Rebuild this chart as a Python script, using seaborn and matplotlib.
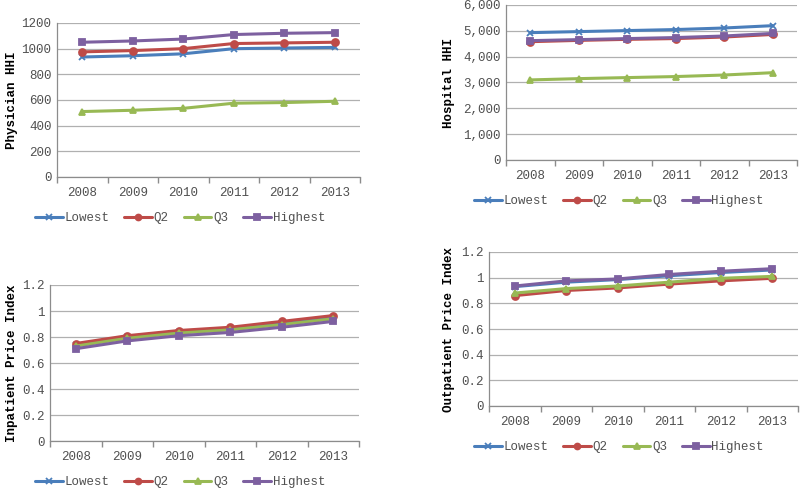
import numpy as np
import pandas as pd
import seaborn as sns
import matplotlib.pyplot as plt
from matplotlib.ticker import FuncFormatter, FixedLocator

years = [2008, 2009, 2010, 2011, 2012, 2013]
groups = ['Lowest', 'Q2', 'Q3', 'Highest']

physician_hhi = {
    'Lowest': [935, 945, 960, 1000, 1005, 1010],
    'Q2': [975, 985, 1000, 1040, 1045, 1050],
    'Q3': [510, 520, 535, 575, 580, 590],
    'Highest': [1050, 1060, 1075, 1110, 1120, 1125],
}
hospital_hhi = {
    'Lowest': [4930, 4970, 5010, 5050, 5110, 5200],
    'Q2': [4580, 4630, 4670, 4700, 4760, 4860],
    'Q3': [3100, 3150, 3190, 3230, 3290, 3380],
    'Highest': [4620, 4660, 4700, 4740, 4800, 4900],
}
inpatient_pi = {
    'Lowest': [0.74, 0.80, 0.84, 0.865, 0.905, 0.95],
    'Q2': [0.75, 0.81, 0.85, 0.875, 0.92, 0.965],
    'Q3': [0.73, 0.79, 0.83, 0.855, 0.895, 0.94],
    'Highest': [0.71, 0.77, 0.81, 0.835, 0.875, 0.92],
}
outpatient_pi = {
    'Lowest': [0.93, 0.965, 0.985, 1.015, 1.04, 1.06],
    'Q2': [0.86, 0.90, 0.92, 0.95, 0.975, 0.995],
    'Q3': [0.88, 0.915, 0.935, 0.965, 0.995, 1.01],
    'Highest': [0.935, 0.975, 0.99, 1.025, 1.05, 1.07],
}

colors = {'Lowest': '#4A7EBB', 'Q2': '#BE4B48', 'Q3': '#98B954', 'Highest': '#7D60A0'}
markers = {'Lowest': 'x', 'Q2': 'o', 'Q3': '^', 'Highest': 's'}

W, H = 800, 488
sns.set_theme(style='white')
plt.rcParams['font.family'] = ['Liberation Mono', 'DejaVu Sans']

fig = plt.figure(figsize=(W / 100, H / 100), dpi=100)

# (data, ylabel, y max, y step, tick formatter, axes box in px [l, r, top, bottom], legend centre px, ylabel x px)
panels = [
    (physician_hhi, 'Physician HHI', 1200, 200, lambda v, p: f'{v:.0f}', [57, 360, 23, 177], (180, 218), 6),
    (hospital_hhi, 'Hospital HHI', 6000, 1000, lambda v, p: f'{v:,.0f}', [506, 797, 5, 160], (619, 201), 443),
    (inpatient_pi, 'Inpatient Price Index', 1.2, 0.2, lambda v, p: f'{v:g}', [50, 359, 285, 441], (180, 482), 6),
    (outpatient_pi, 'Outpatient Price Index', 1.2, 0.2, lambda v, p: f'{v:g}', [489, 798, 252, 406], (619, 447), 443),
]

for data, ylabel, ymax, ystep, fmt, box, leg_c, ylab_x in panels:
    l, r, t, b = box
    ax = fig.add_axes([l / W, 1 - b / H, (r - l) / W, (b - t) / H])
    df = pd.DataFrame([(y, g, v) for g in groups for y, v in zip(years, data[g])],
                      columns=['year', 'group', 'value'])
    for g in groups:
        sub = df[df['group'] == g]
        sns.lineplot(data=sub, x='year', y='value', ax=ax, color=colors[g], marker=markers[g],
                     markersize=5, mec=colors[g], mew=1.3, lw=2.2, label=g, legend=False)

    ax.set_xlim(years[0] - 0.5, years[-1] + 0.5)
    ax.set_ylim(0, ymax)
    ax.yaxis.set_major_locator(FixedLocator(np.arange(0, ymax + ystep / 2, ystep)))
    ax.yaxis.set_major_formatter(FuncFormatter(fmt))
    ax.set_xticks(years)
    ax.set_xticks(np.arange(years[0] - 0.5, years[-1] + 0.6, 1), minor=True)
    ax.tick_params(axis='x', which='major', length=0, pad=7, labelsize=9, labelcolor='#505050')
    ax.tick_params(axis='x', which='minor', length=4, color='#8c8c8c', direction='out', bottom=True)
    ax.tick_params(axis='y', length=0, pad=4, labelsize=9, labelcolor='#505050')
    ax.grid(axis='y', color='#b0b0b0', lw=0.9)
    ax.set_axisbelow(True)
    for s in ['top', 'right']:
        ax.spines[s].set_visible(False)
    for s in ['left', 'bottom']:
        ax.spines[s].set_color('#8c8c8c')
        ax.spines[s].set_linewidth(0.9)
    ax.set_xlabel('')
    ax.set_ylabel('')
    fig.text(ylab_x / W, 1 - ((t + b) / 2) / H, ylabel, rotation=90, ha='left', va='center',
             fontsize=9, fontweight='bold', color='black')

    handles, labels = ax.get_legend_handles_labels()
    fig.legend(handles, labels, loc='center', bbox_to_anchor=(leg_c[0] / W, 1 - leg_c[1] / H),
               ncol=4, frameon=False, fontsize=9, handlelength=2.2, handletextpad=0.15,
               columnspacing=1.2, labelcolor='#505050', markerscale=0.85)

fig.savefig('out.png', dpi=100, facecolor='white')
